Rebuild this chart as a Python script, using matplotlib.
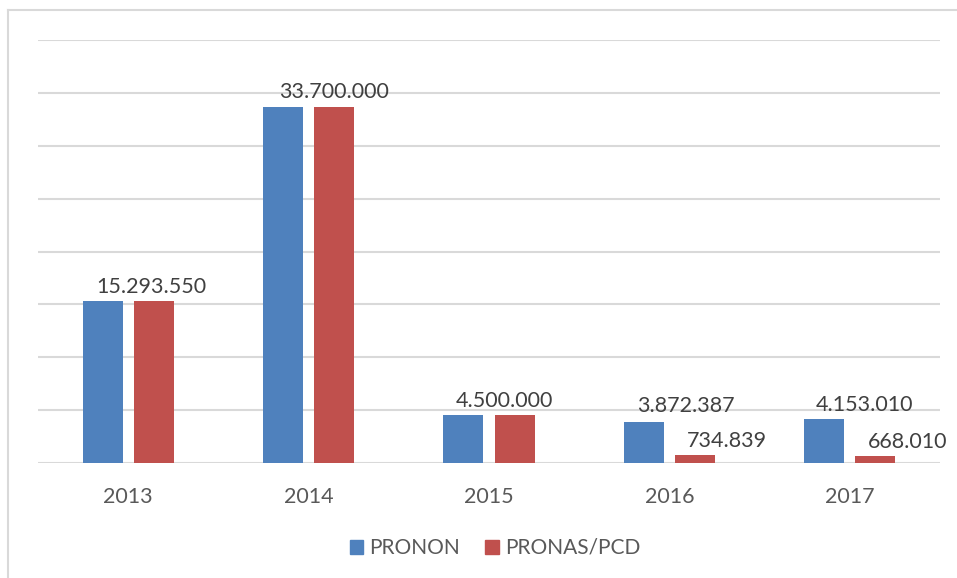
import numpy as np
import matplotlib
matplotlib.use("Agg")
from matplotlib import pyplot as plot
from matplotlib.lines import Line2D

# data
years = ["2013", "2014", "2015", "2016", "2017"]
pronon = [15293550, 33700000, 4500000, 3872387, 4153010]
pronas = [15293550, 33700000, 4500000, 734839, 668010]
seriesNames = ["PRONON", "PRONAS/PCD"]

# data labels: (series index, year index, text)
labels = [
  (1, 0, "15.293.550"),
  (1, 1, "33.700.000"),
  (1, 2, "4.500.000"),
  (0, 3, "3.872.387"),
  (1, 3, "734.839"),
  (0, 4, "4.153.010"),
  (1, 4, "668.010"),
]

# label offsets in points (dx, dy) from bar top centre
labelOffset = {
  (1, 0): (-2, 3),
  (1, 1): (0, 3),
  (1, 2): (-7, 3),
  (0, 3): (30, 4),
  (1, 3): (23, 3),
  (0, 4): (29, 3),
  (1, 4): (23, 3),
}

blue = "#4f81bd"
red = "#c0504d"
plot.rcParams['font.family'] = ['Lato', 'DejaVu Sans']

W, H = 957, 578
fig = plot.figure(figsize=(W / 100, H / 100), dpi=100)
ax = fig.add_axes([38 / W, (H - 463) / H, (940 - 38) / W, (463 - 40) / H])

x = np.arange(len(years))
barW = 0.222
off = 0.142
ax.bar(x - off, pronon, barW, color=blue, zorder=3)
ax.bar(x + off, pronas, barW, color=red, zorder=3)

ax.set_xlim(-0.5, len(years) - 0.5)
ax.set_ylim(0, 40_000_000)
ax.set_yticks(np.arange(0, 40_000_001, 5_000_000))
ax.yaxis.grid(True, color="#d9d9d9", linewidth=1.5, zorder=0)
ax.tick_params(axis="y", left=False, labelleft=False)
ax.set_xticks(x)
ax.set_xticklabels(years)
ax.tick_params(axis="x", bottom=False, labelsize=15.5, labelcolor="#595959", pad=14)
for s in ax.spines.values():
  s.set_visible(False)

series = [pronon, pronas]
for si, yi, txt in labels:
  xc = x[yi] + (off if si == 1 else -off)
  ax.annotate(txt, (xc, series[si][yi]), xytext=labelOffset[(si, yi)],
              textcoords="offset points", ha="center", va="bottom",
              fontsize=15.5, color="#404040", zorder=4)

handles = [plot.Rectangle((0, 0), 1, 1, color=blue),
           plot.Rectangle((0, 0), 1, 1, color=red)]
fig.legend(handles, seriesNames, loc="center", bbox_to_anchor=(495 / W, 1 - 548 / H),
           ncol=2, frameon=False, fontsize=15, labelcolor="#595959",
           handlelength=0.65, handleheight=0.65, handletextpad=0.3, columnspacing=1.2)

# chart border (top and left visible)
fig.add_artist(Line2D([8 / W, 1.0], [1 - 10 / H, 1 - 10 / H], color="#d9d9d9", linewidth=1.5))
fig.add_artist(Line2D([8 / W, 8 / W], [0, 1 - 10 / H], color="#d9d9d9", linewidth=1.5))

plot.savefig("out.png", dpi=100)
